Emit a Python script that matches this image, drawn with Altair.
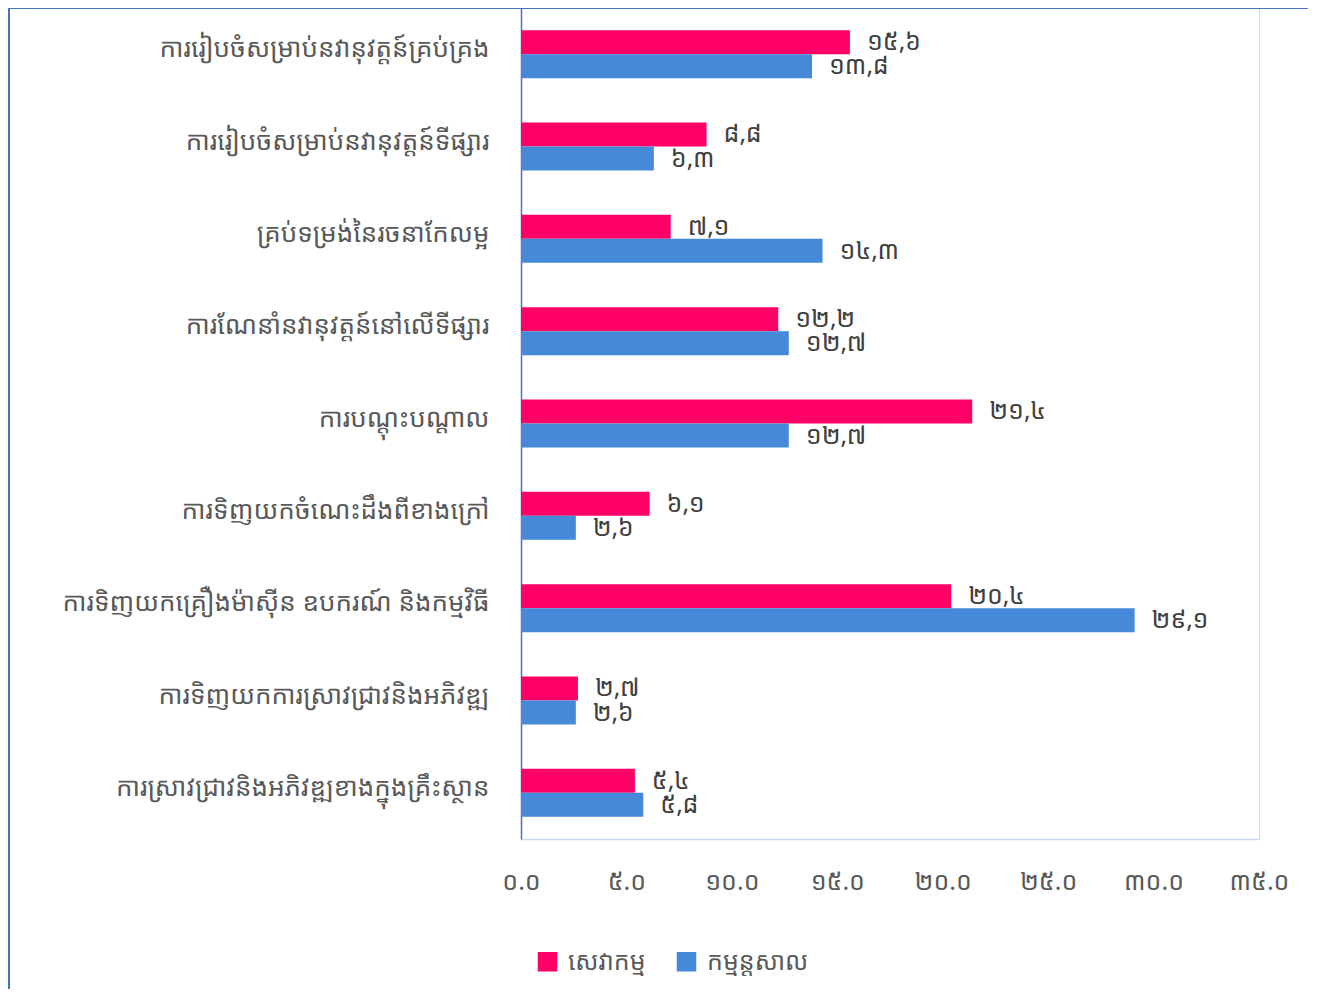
import altair as alt
import pandas as pd

categories = [
    "ការរៀបចំសម្រាប់នវានុវត្តន៍គ្រប់គ្រង",
    "ការរៀបចំសម្រាប់នវានុវត្តន៍ទីផ្សារ",
    "គ្រប់ទម្រង់នៃរចនាកែលម្អ",
    "ការណែនាំនវានុវត្តន៍នៅលើទីផ្សារ",
    "ការបណ្តុះបណ្តាល",
    "ការទិញយកចំណេះដឹងពីខាងក្រៅ",
    "ការទិញយកគ្រឿងម៉ាស៊ីន ឧបករណ៍ និងកម្មវិធី",
    "ការទិញយកការស្រាវជ្រាវនិងអភិវឌ្ឍ",
    "ការស្រាវជ្រាវនិងអភិវឌ្ឍខាងក្នុងគ្រឹះស្ថាន",
]
series_names = ["សេវាកម្ម", "កម្មន្តសាល"]
services = [15.6, 8.8, 7.1, 12.2, 21.4, 6.1, 20.4, 2.7, 5.4]
manufacturing = [13.8, 6.3, 14.3, 12.7, 12.7, 2.6, 29.1, 2.6, 5.8]
tick_labels = ["០.០", "៥.០", "១០.០", "១៥.០", "២០.០", "២៥.០", "៣០.០", "៣៥.០"]
colors = ["#FF0066", "#4589D8"]

khmer_digits = str.maketrans("0123456789.", "០១២៣៤៥៦៧៨៩,")

rows = []
for cat, s, m in zip(categories, services, manufacturing):
    rows.append({"cat": cat, "series": series_names[0], "value": s,
                 "label": f"{s:.1f}".translate(khmer_digits)})
    rows.append({"cat": cat, "series": series_names[1], "value": m,
                 "label": f"{m:.1f}".translate(khmer_digits)})
df = pd.DataFrame(rows)

FONT = "Noto Sans Khmer, Khmer OS, Noto Sans, sans-serif"
label_expr = "[" + ",".join(f"'{t}'" for t in tick_labels) + "][round(datum.value/5)]"

y_enc = alt.Y("cat:N", sort=categories, title=None,
              scale=alt.Scale(paddingInner=0.48, paddingOuter=0.24),
              axis=alt.Axis(ticks=False, labelPadding=32, labelFontSize=26,
                            labelOffset=-5,
                            labelColor="#595959", labelFont=FONT, labelLimit=600,
                            domainColor="#4472C4", domainWidth=1.5))
x_enc = alt.X("value:Q", title=None,
              scale=alt.Scale(domain=[0, 35], nice=False),
              axis=alt.Axis(values=[0, 5, 10, 15, 20, 25, 30, 35], labelExpr=label_expr,
                            ticks=False, grid=False, labelPadding=30, labelFontSize=25,
                            labelFlush=False, labelOverlap=False,
                            labelColor="#595959", labelFont=FONT,
                            domainColor="#C9D8EF", domainWidth=1.5))
yoff = alt.YOffset("series:N", sort=series_names)

bars = alt.Chart(df).mark_bar().encode(
    x=x_enc, y=y_enc, yOffset=yoff,
    color=alt.Color("series:N", sort=series_names,
                    scale=alt.Scale(domain=series_names, range=colors),
                    legend=alt.Legend(title=None, orient="none", direction="horizontal",
                                      legendX=14, legendY=941, symbolType="square",
                                      symbolSize=380, symbolStrokeWidth=0,
                                      labelFontSize=25, labelColor="#595959",
                                      labelFont=FONT, columnPadding=28,
                                      labelOffset=8)),
)

texts = alt.Chart(df).mark_text(align="left", baseline="middle", dx=17, fontSize=25,
                                color="#404040", font=FONT).encode(
    x="value:Q", y=alt.Y("cat:N", sort=categories), yOffset=yoff, text="label:N")

frame_left = alt.Chart(df).mark_rule(color="#4472C4", strokeWidth=2).encode(
    x=alt.value(-512), y=alt.value(0), y2=alt.value(990))
frame_top = alt.Chart(df).mark_rule(color="#4472C4", strokeWidth=2).encode(
    x=alt.value(-513), x2=alt.value(800), y=alt.value(0))

chart = alt.layer(bars, texts, frame_left, frame_top).properties(
    width=738, height=831,
    autosize=alt.AutoSizeParams(type="none"),
    padding={"left": 513, "top": 0, "right": 49, "bottom": 150},
).configure_view(stroke=None).configure(font=FONT)

chart.save("out.html", embed_options={"renderer": "svg", "actions": False})
